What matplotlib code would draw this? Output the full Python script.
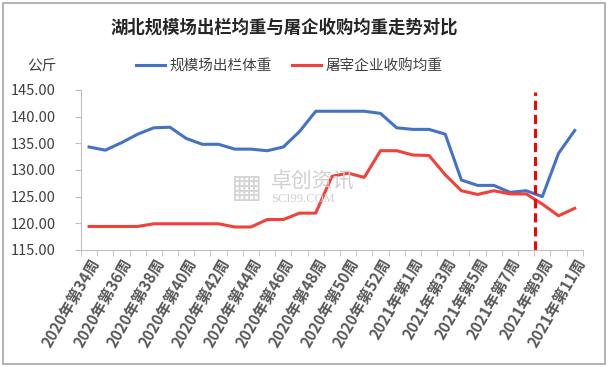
import matplotlib
matplotlib.use("Agg")
import matplotlib.pyplot as plt
from matplotlib.patches import Rectangle

plt.rcParams['font.family'] = ['Noto Sans CJK SC', 'DejaVu Sans']

weeks = ["2020年第%d周" % w for w in range(34, 54)] + ["2021年第%d周" % w for w in range(1, 12)]

farm_weight = [134.3, 133.7, 135.1, 136.7, 137.9, 138.0, 135.9, 134.8, 134.8, 133.9,
               133.9, 133.6, 134.3, 137.2, 141.0, 141.0, 141.0, 141.0, 140.6, 137.9,
               137.6, 137.6, 136.7, 128.1, 127.1, 127.1, 125.8, 126.1, 125.0, 133.1,
               137.4]
slaughter_weight = [119.4, 119.4, 119.4, 119.4, 119.9, 119.9, 119.9, 119.9, 119.9, 119.3,
                    119.3, 120.7, 120.7, 121.9, 121.9, 128.8, 129.4, 128.6, 133.6, 133.6,
                    132.8, 132.7, 129.1, 126.1, 125.4, 126.1, 125.5, 125.5, 123.6, 121.4,
                    122.8]
yticks = [115, 120, 125, 130, 135, 140, 145]
marker_pos = 27.55

fig = plt.figure(figsize=(6.09, 3.67), dpi=100)
fig.patches.append(Rectangle((0.005, 0.008), 0.988, 0.984, transform=fig.transFigure,
                             fill=False, edgecolor='#A6A6A6', linewidth=1.2))
ax = fig.add_axes([0.133, 0.319, 0.824, 0.436])

x = range(len(weeks))
ax.plot(x, farm_weight, color='#4472C4', linewidth=2.2, label='规模场出栏体重')
ax.plot(x, slaughter_weight, color='#F0413A', linewidth=2.2, label='屠宰企业收购均重')
ax.axvline(marker_pos, ymin=0, ymax=0.985, color='#FF0000', linestyle=(0, (3, 1.6)), linewidth=2.2)

ax.set_xlim(-0.5, len(weeks) - 0.5)
ax.set_ylim(115, 145)
ax.set_yticks(yticks)
ax.set_yticklabels(["%.2f" % v for v in yticks], fontsize=10.5, color='#404040')
ax.set_xticks(list(x)[::2])
ax.set_xticklabels(weeks[::2], rotation=60, ha='right', va='top', rotation_mode='anchor',
                   fontsize=11, fontweight='bold', color='#595959')
ax.set_xticks([i - 0.5 for i in range(len(weeks) + 1)], minor=True)
ax.tick_params(axis='x', which='major', length=0, pad=4)
ax.tick_params(axis='x', which='minor', length=4, color='#BFBFBF')
ax.tick_params(axis='y', length=4, color='#BFBFBF', pad=14)
for s in ['top', 'right']:
    ax.spines[s].set_visible(False)
for s in ['left', 'bottom']:
    ax.spines[s].set_color('#BFBFBF')

fig.text(0.466, 0.925, '湖北规模场出栏均重与屠企收购均重走势对比', ha='center', va='center',
         fontsize=12.5, fontweight='bold', color='#262626')
fig.text(0.068, 0.82, '公斤', ha='center', va='center', fontsize=10.5, color='#404040')
fig.legend(loc='center', bbox_to_anchor=(0.475, 0.82), ncol=2, frameon=False,
           fontsize=10.5, handlelength=2.0, columnspacing=1.4, handletextpad=0.3,
           labelcolor='#404040')

# watermark
fig.text(0.445, 0.505, '卓创资讯', ha='left', va='center', fontsize=15, color='#D0D0D0')
fig.text(0.445, 0.458, 'SCI99.COM', ha='left', va='center', fontsize=9,
         family=['Liberation Serif', 'DejaVu Serif'], color='#D0D0D0')
fig.text(0.405, 0.49, '▦', ha='center', va='center', fontsize=24, color='#D5D5D5',
         family=['DejaVu Sans'])

fig.savefig('out.png', dpi=100)
